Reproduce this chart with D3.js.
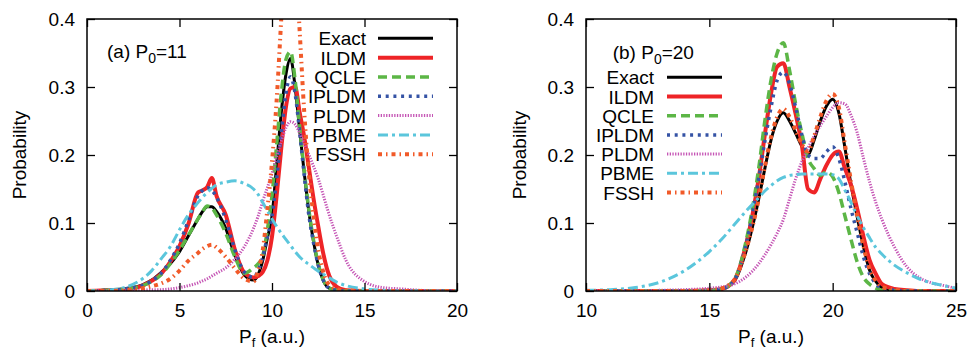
<!DOCTYPE html>
<html>
<head>
<meta charset="utf-8">
<script src="https://cdn.jsdelivr.net/npm/d3@7"></script>
<style>
  body { margin: 0; background: #fff; }
  svg text { font-family: "Liberation Sans", Arial, Helvetica, sans-serif; fill: #000; }
</style>
</head>
<body>
<svg id="chart"></svg>
<script>
var width = 971;
var height = 349;

// methods, in the order they are plotted (last one on top)
var methods = ["Exact", "ILDM", "QCLE", "IPLDM", "PLDM", "PBME", "FSSH"];

////////////////////////////////////////////////////////////////////////////////
//                                                       Panel (a), P0 = 11 //
////////////////////////////////////////////////////////////////////////////////

var pfA = [0, 1, 2, 3, 3.5, 4, 4.5, 5, 5.5, 6, 6.25, 6.5, 6.75, 7, 7.5, 8, 8.5, 9, 9.25, 9.5, 9.75,
           10, 10.25, 10.5, 10.75, 11, 11.25, 11.5, 11.75, 12, 12.25, 12.5, 12.75, 13, 13.5, 14,
           15, 16, 17, 18, 19, 20];
var exactA = [0, 0.001, 0.003, 0.009, 0.016, 0.027, 0.04, 0.058, 0.082, 0.106, 0.117, 0.124, 0.124, 0.117,
              0.092, 0.052, 0.024, 0.016, 0.024, 0.045, 0.078, 0.11, 0.185, 0.262, 0.318, 0.342, 0.3,
              0.235, 0.172, 0.115, 0.072, 0.038, 0.017, 0.006, 0.001, 0, 0, 0, 0, 0, 0, 0];
var ildmA = [0, 0.001, 0.002, 0.008, 0.015, 0.025, 0.043, 0.066, 0.1, 0.145, 0.148, 0.153, 0.166, 0.14,
             0.112, 0.06, 0.027, 0.02, 0.022, 0.028, 0.045, 0.08, 0.14, 0.21, 0.27, 0.298, 0.3, 0.262,
             0.225, 0.18, 0.135, 0.095, 0.058, 0.03, 0.006, 0.001, 0, 0, 0, 0, 0, 0];
var qcleA = [0, 0.001, 0.003, 0.008, 0.014, 0.024, 0.04, 0.06, 0.083, 0.106, 0.117, 0.125, 0.122, 0.112,
             0.085, 0.05, 0.026, 0.034, 0.04, 0.052, 0.09, 0.14, 0.215, 0.29, 0.34, 0.352, 0.31, 0.24,
             0.175, 0.118, 0.074, 0.04, 0.018, 0.006, 0.001, 0, 0, 0, 0, 0, 0, 0];
var ipldmA = [0, 0.001, 0.003, 0.008, 0.015, 0.026, 0.045, 0.07, 0.105, 0.14, 0.148, 0.152, 0.148, 0.138,
              0.105, 0.06, 0.028, 0.02, 0.03, 0.05, 0.08, 0.11, 0.165, 0.23, 0.29, 0.315, 0.29, 0.232,
              0.168, 0.11, 0.07, 0.038, 0.017, 0.006, 0.001, 0, 0, 0, 0, 0, 0, 0];
var pldmA = [0, 0, 0, 0.001, 0.002, 0.002, 0.003, 0.005, 0.008, 0.012, 0.015, 0.018, 0.022, 0.026,
             0.034, 0.047, 0.065, 0.092, 0.11, 0.132, 0.152, 0.173, 0.198, 0.22, 0.24, 0.249, 0.245,
             0.232, 0.216, 0.2, 0.183, 0.165, 0.143, 0.12, 0.08, 0.045, 0.014, 0.005, 0.003, 0.001, 0, 0];
var pbmeA = [0, 0.001, 0.005, 0.018, 0.03, 0.047, 0.065, 0.09, 0.113, 0.13, 0.138, 0.145, 0.151, 0.156,
             0.16, 0.162, 0.158, 0.15, 0.142, 0.13, 0.118, 0.106, 0.095, 0.085, 0.076, 0.067, 0.058,
             0.05, 0.044, 0.039, 0.034, 0.029, 0.025, 0.021, 0.013, 0.008, 0.003, 0.001, 0, 0, 0, 0];
var fsshA = [0, 0, 0.001, 0.004, 0.007, 0.011, 0.018, 0.03, 0.045, 0.056, 0.062, 0.066, 0.068, 0.064,
             0.05, 0.033, 0.018, 0.014, 0.03, 0.06, 0.12, 0.19, 0.28, 0.4, 0.52, 0.56, 0.5, 0.38,
             0.26, 0.17, 0.11, 0.06, 0.03, 0.012, 0.003, 0.001, 0, 0, 0, 0, 0, 0];

////////////////////////////////////////////////////////////////////////////////
//                                                       Panel (b), P0 = 20 //
////////////////////////////////////////////////////////////////////////////////

var pfB = [10, 11, 12, 13, 14, 15, 15.5, 16, 16.5, 17, 17.25, 17.5, 17.75, 18, 18.25, 18.5, 18.75,
           19, 19.25, 19.5, 19.75, 20, 20.25, 20.5, 20.75, 21, 21.25, 21.5, 21.75, 22, 22.5, 23,
           23.5, 24, 24.5, 25];
var exactB = [0, 0, 0, 0, 0, 0.001, 0.003, 0.014, 0.06, 0.135, 0.18, 0.222, 0.25, 0.262, 0.25, 0.232,
              0.213, 0.2, 0.222, 0.25, 0.272, 0.282, 0.262, 0.21, 0.155, 0.108, 0.065, 0.03, 0.014,
              0.005, 0.001, 0, 0, 0, 0, 0];
var ildmB = [0, 0, 0, 0, 0, 0.001, 0.003, 0.015, 0.07, 0.165, 0.23, 0.29, 0.33, 0.335, 0.3, 0.26,
             0.215, 0.15, 0.145, 0.165, 0.185, 0.2, 0.205, 0.18, 0.155, 0.12, 0.08, 0.045, 0.025,
             0.01, 0.003, 0.001, 0, 0, 0, 0];
var qcleB = [0, 0, 0, 0, 0, 0.001, 0.003, 0.016, 0.075, 0.18, 0.25, 0.31, 0.35, 0.365, 0.325, 0.275,
             0.232, 0.195, 0.18, 0.17, 0.175, 0.168, 0.145, 0.11, 0.075, 0.042, 0.02, 0.01, 0.004,
             0.001, 0, 0, 0, 0, 0, 0];
var ipldmB = [0, 0, 0, 0, 0, 0.001, 0.003, 0.015, 0.07, 0.165, 0.22, 0.27, 0.31, 0.322, 0.305, 0.27,
              0.23, 0.2, 0.195, 0.195, 0.205, 0.212, 0.195, 0.16, 0.12, 0.085, 0.05, 0.025, 0.011,
              0.004, 0.001, 0, 0, 0, 0, 0];
var pldmB = [0, 0, 0, 0.001, 0.002, 0.004, 0.006, 0.01, 0.021, 0.04, 0.053, 0.068, 0.085, 0.105, 0.135,
             0.165, 0.19, 0.21, 0.228, 0.243, 0.257, 0.27, 0.277, 0.275, 0.258, 0.232, 0.195, 0.16,
             0.13, 0.105, 0.065, 0.036, 0.02, 0.012, 0.008, 0.004];
var pbmeB = [0.001, 0.002, 0.005, 0.013, 0.03, 0.058, 0.076, 0.097, 0.118, 0.137, 0.147, 0.155, 0.162,
             0.167, 0.17, 0.171, 0.172, 0.172, 0.172, 0.172, 0.172, 0.171, 0.165, 0.148, 0.13, 0.11,
             0.093, 0.078, 0.064, 0.054, 0.038, 0.027, 0.018, 0.012, 0.008, 0.004];
var fsshB = [0, 0, 0, 0, 0, 0.001, 0.004, 0.016, 0.062, 0.135, 0.183, 0.226, 0.256, 0.268, 0.256, 0.236,
             0.216, 0.205, 0.228, 0.256, 0.28, 0.29, 0.27, 0.215, 0.16, 0.11, 0.066, 0.032, 0.015,
             0.006, 0.002, 0, 0, 0, 0, 0];

// axes
var yTicks = [0, 0.1, 0.2, 0.3, 0.4];
var yTickLabels = ["0", "0.1", "0.2", "0.3", "0.4"];
var xTicksA = [0, 5, 10, 15, 20];
var xTicksB = [10, 15, 20, 25];

////////////////////////////////////////////////////////////////////////////////
//                                                                    Styles //
////////////////////////////////////////////////////////////////////////////////

var styles = {
  "Exact": {color: "#000000", width: 3,   dash: null},
  "ILDM":  {color: "#ee2427", width: 4,   dash: null},
  "QCLE":  {color: "#5cb646", width: 3.5, dash: "9,5"},
  "IPLDM": {color: "#3553a5", width: 3.5, dash: "3,4.7"},
  "PLDM":  {color: "#c555b5", width: 3,   dash: "1.3,1.4"},
  "PBME":  {color: "#5bc6dc", width: 3,   dash: "10,4,3,4"},
  "FSSH":  {color: "#f15a29", width: 4,   dash: "4,4,1.5,4"}
};

var fontSize = 19;
// note: "top" is reserved by the browser (window.top)
var plotTop = 19, plotBottom = 291;

var panels = [
  {id: "a", left: 87, right: 457, domain: [0, 20], xTicks: xTicksA, pf: pfA,
   series: [exactA, ildmA, qcleA, ipldmA, pldmA, pbmeA, fsshA],
   label: ["(a) P", "0", "=11"], labelX: 107, labelY: 58.3,
   legendRight: 366, legendTop: 38.3, legendStep: 19.33, legendLine: [378, 433],
   yTitleX: 26},
  {id: "b", left: 586, right: 956, domain: [10, 25], xTicks: xTicksB, pf: pfB,
   series: [exactB, ildmB, qcleB, ipldmB, pldmB, pbmeB, fsshB],
   label: ["(b) P", "0", "=20"], labelX: 612.7, labelY: 59.3,
   legendRight: 654, legendTop: 77.3, legendStep: 19.2, legendLine: [667, 722],
   yTitleX: 526}
];

var svg = d3.select("#chart")
  .attr("width", width)
  .attr("height", height);

svg.append("rect").attr("width", width).attr("height", height).attr("fill", "#fff");

var defs = svg.append("defs");

panels.forEach(drawPanel);

////////////////////////////////////////////////////////////////////////////////
//                                                                Draw panel //
////////////////////////////////////////////////////////////////////////////////

function drawPanel(p) {
  var x = d3.scaleLinear().domain(p.domain).range([p.left, p.right]);
  var y = d3.scaleLinear().domain([0, 0.4]).range([plotBottom, plotTop]);

  var g = svg.append("g").attr("class", "panel-" + p.id);

  defs.append("clipPath").attr("id", "clip-" + p.id)
    .append("rect")
    .attr("x", p.left).attr("y", plotTop)
    .attr("width", p.right - p.left).attr("height", plotBottom - plotTop);

  // curves
  var plot = g.append("g").attr("clip-path", "url(#clip-" + p.id + ")");
  methods.forEach(function(m, i) {
    var line = d3.line()
      .x(function(d, j) { return x(p.pf[j]); })
      .y(function(d) { return y(d); })
      .curve(d3.curveMonotoneX);
    var s = styles[m];
    plot.append("path")
      .datum(p.series[i])
      .attr("d", line)
      .attr("fill", "none")
      .attr("stroke", s.color)
      .attr("stroke-width", s.width)
      .attr("stroke-dasharray", s.dash)
      .attr("stroke-linejoin", "round");
  });

  // axes, ticks pointing inwards on all four sides
  g.append("g")
    .attr("transform", "translate(0," + plotBottom + ")")
    .call(d3.axisBottom(x).tickValues(p.xTicks).tickFormat(d3.format("d"))
      .tickSizeInner(-8).tickSizeOuter(0).tickPadding(13));
  g.append("g")
    .attr("transform", "translate(" + p.left + ",0)")
    .call(d3.axisLeft(y).tickValues(yTicks)
      .tickFormat(function(d, i) { return yTickLabels[i]; })
      .tickSizeInner(-8).tickSizeOuter(0).tickPadding(12));
  g.append("g")
    .attr("transform", "translate(0," + plotTop + ")")
    .call(d3.axisTop(x).tickValues(p.xTicks).tickFormat("").tickSizeInner(-8).tickSizeOuter(0));
  g.append("g")
    .attr("transform", "translate(" + p.right + ",0)")
    .call(d3.axisRight(y).tickValues(yTicks).tickFormat("").tickSizeInner(-8).tickSizeOuter(0));

  g.selectAll(".domain").remove();
  g.selectAll(".tick line").attr("stroke", "#000").attr("stroke-width", 1.3);
  g.selectAll(".tick text")
    .attr("font-size", fontSize)
    .attr("font-family", "Liberation Sans, Arial, sans-serif");

  // frame
  g.append("rect")
    .attr("x", p.left).attr("y", plotTop)
    .attr("width", p.right - p.left).attr("height", plotBottom - plotTop)
    .attr("fill", "none").attr("stroke", "#000").attr("stroke-width", 1.5);

  // axis titles
  var xt = g.append("text")
    .attr("x", (p.left + p.right) / 2).attr("y", 343)
    .attr("text-anchor", "middle").attr("font-size", fontSize);
  xt.append("tspan").text("P");
  xt.append("tspan").attr("dy", 4).attr("font-size", 13).text("f");
  xt.append("tspan").attr("dy", -4).text(" (a.u.)");

  g.append("text")
    .attr("transform", "translate(" + p.yTitleX + "," + ((plotTop + plotBottom) / 2) + ") rotate(-90)")
    .attr("text-anchor", "middle").attr("font-size", fontSize)
    .text("Probability");

  // panel label
  var lt = g.append("text")
    .attr("x", p.labelX).attr("y", p.labelY).attr("font-size", fontSize);
  lt.append("tspan").text(p.label[0]);
  lt.append("tspan").attr("dy", 5).attr("font-size", 14).text(p.label[1]);
  lt.append("tspan").attr("dy", -5).text(p.label[2]);

  // legend
  methods.forEach(function(m, i) {
    var ly = p.legendTop + i * p.legendStep;
    var s = styles[m];
    g.append("text")
      .attr("x", p.legendRight).attr("y", ly + 7)
      .attr("text-anchor", "end").attr("font-size", fontSize)
      .text(m);
    g.append("line")
      .attr("x1", p.legendLine[0]).attr("x2", p.legendLine[1])
      .attr("y1", ly).attr("y2", ly)
      .attr("stroke", s.color)
      .attr("stroke-width", s.width)
      .attr("stroke-dasharray", s.dash);
  });
}
</script>
</body>
</html>
